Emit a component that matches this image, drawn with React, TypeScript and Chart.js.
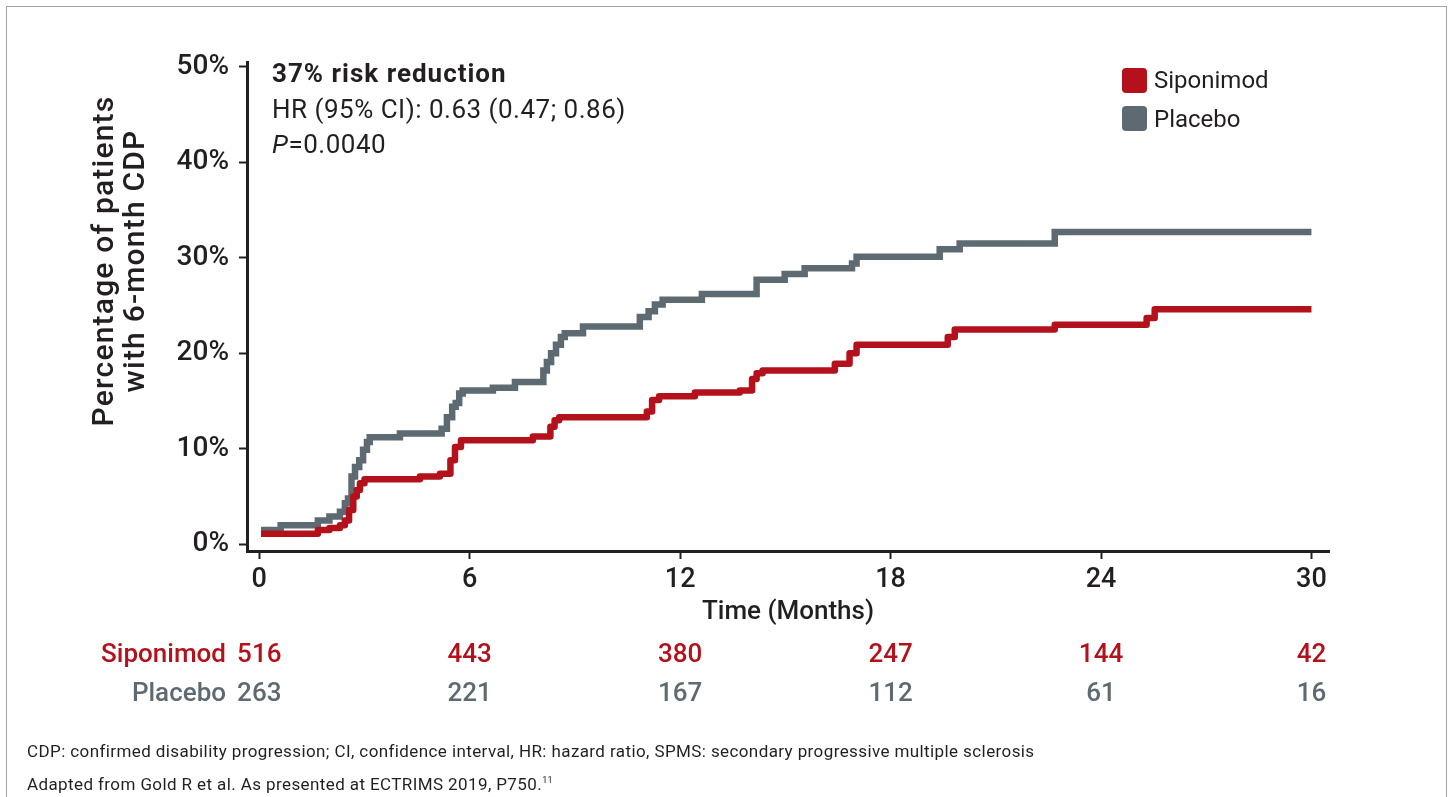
import React, { useEffect, useRef } from 'react';
import { Chart, registerables } from 'chart.js';

Chart.register(...registerables);

const RED = '#b3121c';
const GRAY = '#5e6a71';
const INK = '#231f20';

// Axis ticks
const xTicks = [0, 6, 12, 18, 24, 30];
const yTicks = [0, 10, 20, 30, 40, 50];

// Kaplan–Meier style cumulative incidence (month, %), step occurs at each time
const siponimodTime = [0.05, 1.67, 2.0, 2.3, 2.44, 2.56, 2.68, 2.78, 2.87, 3.0, 4.58, 5.15, 5.45, 5.58, 5.75, 7.8, 8.3, 8.42, 8.55, 11.05, 11.2, 11.4, 12.42, 13.7, 14.05, 14.18, 14.35, 16.41, 16.83, 17.03, 19.63, 19.83, 22.68, 25.3, 25.53, 30.0];
const siponimodPct = [1.1, 1.5, 1.7, 2.0, 2.5, 3.6, 5.0, 5.7, 6.4, 6.8, 7.1, 7.4, 8.8, 10.2, 10.9, 11.3, 12.3, 13.0, 13.3, 13.9, 15.1, 15.5, 15.9, 16.1, 17.3, 17.9, 18.2, 18.9, 20.0, 20.9, 21.7, 22.5, 23.0, 23.7, 24.6, 24.6];

const placeboTime = [0.05, 0.61, 1.67, 2.0, 2.3, 2.44, 2.53, 2.63, 2.73, 2.85, 2.96, 3.07, 3.15, 4.01, 5.2, 5.35, 5.5, 5.6, 5.7, 5.8, 6.66, 7.29, 8.1, 8.2, 8.32, 8.46, 8.6, 8.71, 9.23, 10.85, 11.1, 11.28, 11.5, 12.62, 14.18, 14.98, 15.55, 16.9, 17.03, 19.4, 19.97, 22.68, 30.0];
const placeboPct = [1.5, 2.0, 2.5, 2.9, 3.4, 4.3, 4.8, 7.1, 8.1, 8.8, 9.9, 10.7, 11.2, 11.6, 12.1, 13.3, 14.4, 14.8, 15.8, 16.1, 16.4, 17.0, 18.2, 19.1, 20.0, 20.9, 21.7, 22.1, 22.8, 23.8, 24.4, 25.1, 25.6, 26.2, 27.7, 28.3, 28.9, 29.4, 30.1, 30.9, 31.5, 32.7, 32.7];

// Number at risk
const riskLabels = ['Siponimod', 'Placebo'];
const riskSiponimod = [516, 443, 380, 247, 144, 42];
const riskPlacebo = [263, 221, 167, 112, 61, 16];

const FONT = 'Roboto, "Noto Sans", sans-serif';

const riskPlugin = {
  id: 'riskTable',
  afterDraw(chart: any) {
    const { ctx, scales, chartArea } = chart;
    const x = scales.x;
    const rows = [
      { label: riskLabels[0], values: riskSiponimod, color: RED, dy: 104 },
      { label: riskLabels[1], values: riskPlacebo, color: GRAY, dy: 143 },
    ];
    ctx.save();
    ctx.font = `500 26px ${FONT}`;
    ctx.textBaseline = 'middle';
    rows.forEach((r) => {
      const y = chartArea.bottom + r.dy;
      ctx.fillStyle = r.color;
      ctx.textAlign = 'right';
      ctx.fillText(r.label, chartArea.left - 21, y);
      ctx.textAlign = 'center';
      r.values.forEach((v, i) => {
        ctx.fillText(String(v), x.getPixelForValue(xTicks[i]), y);
      });
    });
    ctx.restore();
  },
};

export default function App() {
  const ref = useRef<HTMLCanvasElement | null>(null);

  useEffect(() => {
    if (!ref.current) return;
    Chart.defaults.font.family = FONT;
    const chart = new Chart(ref.current, {
      type: 'line',
      data: {
        datasets: [
          {
            label: 'Siponimod',
            data: siponimodTime.map((t, i) => ({ x: t, y: siponimodPct[i] })),
            borderColor: RED,
            backgroundColor: RED,
            borderWidth: 6.5,
            pointRadius: 0,
            stepped: 'before',
            borderJoinStyle: 'round',
            borderCapStyle: 'butt',
          },
          {
            label: 'Placebo',
            data: placeboTime.map((t, i) => ({ x: t, y: placeboPct[i] })),
            borderColor: GRAY,
            backgroundColor: GRAY,
            borderWidth: 6.5,
            pointRadius: 0,
            stepped: 'before',
            borderJoinStyle: 'miter',
            borderCapStyle: 'butt',
          },
        ],
      },
      options: {
        animation: false,
        responsive: false,
        devicePixelRatio: 1,
        layout: { padding: { top: 62, right: 119, left: 0, bottom: 0 } },
        plugins: { legend: { display: false }, tooltip: { enabled: false }, title: { display: false } },
        scales: {
          x: {
            type: 'linear',
            min: -0.35,
            max: 30.5,
            afterBuildTicks: (s: any) => { s.ticks = xTicks.map((v) => ({ value: v })); },
            afterFit: (s: any) => { s.height = 246; },
            grid: { display: true, drawOnChartArea: false, drawTicks: true, tickLength: 8, tickWidth: 2, tickColor: INK },
            border: { display: true, color: INK, width: 3 },
            ticks: { color: INK, font: { size: 27, weight: '500' }, padding: 5, maxRotation: 0, autoSkip: false },
            title: { display: true, text: 'Time (Months)', color: INK, font: { size: 26, weight: '500' }, padding: { top: 0, bottom: 169 } },
          },
          y: {
            type: 'linear',
            min: -0.7,
            max: 50.5,
            afterBuildTicks: (s: any) => { s.ticks = yTicks.map((v) => ({ value: v })); },
            afterFit: (s: any) => { s.width = 247; },
            grid: { display: true, drawOnChartArea: false, drawTicks: true, tickLength: 8, tickWidth: 2, tickColor: INK },
            border: { display: true, color: INK, width: 3 },
            ticks: { color: INK, font: { size: 28, weight: '500' }, padding: 10, callback: (v: any) => `${v}%` },
          },
        },
      },
      plugins: [riskPlugin],
    } as any);
    return () => chart.destroy();
  }, []);

  return (
    <div style={{ position: 'fixed', left: 0, top: 0, width: 1448, height: 797, background: '#fff', overflow: 'hidden', fontFamily: FONT, color: INK }}>
      <div style={{ position: 'absolute', left: 6, top: 6, width: 1441, height: 840, border: '1.5px solid #a3a3a3', boxSizing: 'border-box' }} />
      <canvas ref={ref} width={1448} height={797} style={{ position: 'absolute', left: 0, top: 0, width: 1448, height: 797 }} />
      <div style={{ position: 'absolute', left: -82, top: 230, width: 400, height: 62, transform: 'rotate(-90deg)', textAlign: 'center', fontSize: 30, fontWeight: 500, lineHeight: '31px', letterSpacing: '1.2px', whiteSpace: 'nowrap' }}>
        <div>Percentage of patients</div>
        <div>with 6-month CDP</div>
      </div>
      <div style={{ position: 'absolute', left: 272, top: 56, fontSize: 26, lineHeight: '35.5px', whiteSpace: 'nowrap' }}>
        <div style={{ fontWeight: 700, letterSpacing: '1px' }}>37% risk reduction</div>
        <div style={{ letterSpacing: '0.5px' }}>HR (95% CI): 0.63 (0.47; 0.86)</div>
        <div style={{ letterSpacing: '0.5px' }}><i>P</i>=0.0040</div>
      </div>
      <div style={{ position: 'absolute', left: 1122, top: 68, width: 25, height: 25, background: RED, borderRadius: 4 }} />
      <div style={{ position: 'absolute', left: 1154, top: 62, fontSize: 24, lineHeight: '36px' }}>Siponimod</div>
      <div style={{ position: 'absolute', left: 1122, top: 106, width: 25, height: 25, background: GRAY, borderRadius: 4 }} />
      <div style={{ position: 'absolute', left: 1154, top: 101, fontSize: 24, lineHeight: '36px' }}>Placebo</div>
      <div style={{ position: 'absolute', left: 27, top: 737, fontSize: 17, lineHeight: '29px', letterSpacing: '0.4px', whiteSpace: 'nowrap' }}>
        <div>CDP: confirmed disability progression; CI, confidence interval, HR: hazard ratio, SPMS: secondary progressive multiple sclerosis</div>
        <div>Adapted from Gold R et al. As presented at ECTRIMS 2019, P750.<sup style={{ fontSize: 9 }}>11</sup></div>
      </div>
    </div>
  );
}
